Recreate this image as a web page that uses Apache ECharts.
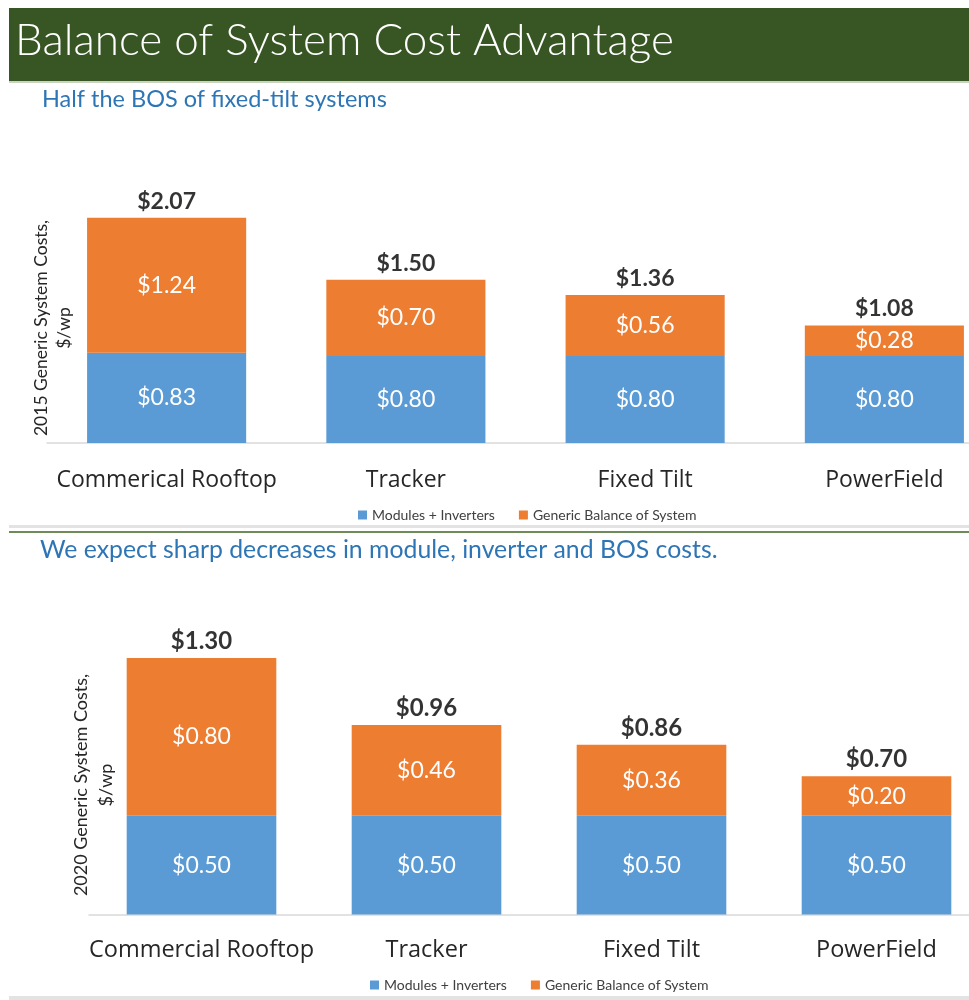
<!DOCTYPE html>
<html>
<head>
<meta charset="utf-8">
<title>Balance of System Cost Advantage</title>
<script src="https://cdn.jsdelivr.net/npm/echarts@6/dist/echarts.min.js"></script>
<style>
  html, body { margin: 0; padding: 0; background: #fff; overflow: hidden; }
  /* the slide is cropped on the right, so the canvas runs a bit past the window */
  #chart { width: 1010px; height: 1000px; }
</style>
</head>
<body>
<div id="chart"></div>
<script>
// ---- data ----
const categories2015 = ['Commerical Rooftop', 'Tracker', 'Fixed Tilt', 'PowerField']
const modules2015 = [0.83, 0.80, 0.80, 0.80]
const bos2015 = [1.24, 0.70, 0.56, 0.28]
const totals2015 = [2.07, 1.50, 1.36, 1.08]

const categories2020 = ['Commercial Rooftop', 'Tracker', 'Fixed Tilt', 'PowerField']
const modules2020 = [0.50, 0.50, 0.50, 0.50]
const bos2020 = [0.80, 0.46, 0.36, 0.20]
const totals2020 = [1.30, 0.96, 0.86, 0.70]

const seriesNames = ['Modules + Inverters', 'Generic Balance of System']

const BLUE = '#5B9BD5'
const ORANGE = '#ED7D31'
const FONT = 'Lato, "Open Sans", sans-serif'
const CAT_FONT = '"Open Sans", Lato, sans-serif'

const money = (v) => '$' + Number(v).toFixed(2)

const chart = echarts.init(document.getElementById('chart'))

// one stacked block (2 bar series + a label-only scatter for the totals)
const makeSeries = (idx, modules, bos, totals, opts) => [
  {
    name: seriesNames[0],
    type: 'bar',
    stack: 'cost' + idx,
    xAxisIndex: idx,
    yAxisIndex: idx,
    barWidth: '66.5%',
    itemStyle: { color: BLUE },
    label: {
      show: true,
      position: 'inside',
      color: '#fff',
      fontFamily: FONT,
      fontSize: opts.inner,
      formatter: (p) => money(p.value)
    },
    data: modules
  },
  {
    name: seriesNames[1],
    type: 'bar',
    stack: 'cost' + idx,
    xAxisIndex: idx,
    yAxisIndex: idx,
    itemStyle: { color: ORANGE },
    label: {
      show: true,
      position: 'inside',
      color: '#fff',
      fontFamily: FONT,
      fontSize: opts.inner,
      formatter: (p) => money(p.value)
    },
    data: bos
  },
  {
    name: 'Total',
    type: 'scatter',
    xAxisIndex: idx,
    yAxisIndex: idx,
    symbolSize: 0,
    silent: true,
    label: {
      show: true,
      position: 'top',
      distance: opts.dist,
      color: '#000',
      fontFamily: FONT,
      fontWeight: 'bold',
      fontSize: opts.total,
      formatter: (p) => money(p.value)
    },
    data: totals
  }
]

const xAxisFor = (idx, cats, margin, size) => ({
  type: 'category',
  gridIndex: idx,
  data: cats,
  axisTick: { show: false },
  axisLine: { lineStyle: { color: '#d9d9d9', width: 1.5 } },
  axisLabel: { interval: 0, color: '#262626', fontFamily: CAT_FONT, fontSize: size, margin: margin }
})

const yAxisFor = (idx, max) => ({
  type: 'value',
  gridIndex: idx,
  min: 0,
  max: max,
  show: false,
  splitLine: { show: false }
})

const legendFor = (left, top) => ({
  left: left,
  top: top,
  data: seriesNames,
  icon: 'rect',
  itemWidth: 9,
  itemHeight: 9,
  itemGap: 24,
  textStyle: { color: '#404040', fontFamily: FONT, fontSize: 14 }
})

const option = {
  animation: false,
  graphic: [
    // header banner
    { type: 'rect', left: 9, top: 8, shape: { width: 1001, height: 73 }, style: { fill: '#375623' } },
    { type: 'rect', left: 9, top: 81, shape: { width: 1001, height: 2 }, style: { fill: '#c9d3c0' } },
    {
      type: 'text', left: 15, top: 19,
      style: { text: 'Balance of System Cost Advantage', fill: '#fff', font: '300 44px ' + FONT }
    },
    {
      type: 'text', left: 42, top: 87,
      style: { text: 'Half the BOS of fixed-tilt systems', fill: '#2E75B6', font: '23.5px ' + FONT }
    },
    {
      type: 'text', x: 53, y: 328, rotation: Math.PI / 2,
      style: {
        text: '2015 Generic System Costs,\n$/wp', fill: '#262626', font: '17.5px ' + FONT,
        align: 'center', verticalAlign: 'middle', lineHeight: 23
      }
    },
    // separator between the two panels
    { type: 'rect', left: 9, top: 525, shape: { width: 1001, height: 3 }, style: { fill: '#e3e3e3' } },
    { type: 'rect', left: 9, top: 531, shape: { width: 1001, height: 2 }, style: { fill: '#6f8b58' } },
    {
      type: 'text', left: 40, top: 538,
      style: { text: 'We expect sharp decreases in module, inverter and BOS costs.', fill: '#2E75B6', font: '24.8px ' + FONT }
    },
    {
      type: 'text', x: 94, y: 785, rotation: Math.PI / 2,
      style: {
        text: '2020 Generic System Costs,\n$/wp', fill: '#262626', font: '18px ' + FONT,
        align: 'center', verticalAlign: 'middle', lineHeight: 25
      }
    },
    { type: 'rect', left: 9, top: 996, shape: { width: 1001, height: 4 }, style: { fill: '#e3e3e3' } }
  ],
  legend: [legendFor(353, 503), legendFor(365, 973)],
  grid: [
    { left: 47, width: 957, top: 171, height: 272 },
    { left: 89, width: 900, top: 618.5, height: 296 }
  ],
  xAxis: [
    xAxisFor(0, categories2015, 26, 23),
    xAxisFor(1, categories2020, 24, 23.5)
  ],
  yAxis: [yAxisFor(0, 2.5), yAxisFor(1, 1.5)],
  series: [
    ...makeSeries(0, modules2015, bos2015, totals2015, { inner: 23, total: 23, dist: 5 }),
    ...makeSeries(1, modules2020, bos2020, totals2020, { inner: 23, total: 24, dist: 5 })
  ]
}

chart.setOption(option)
</script>
</body>
</html>
